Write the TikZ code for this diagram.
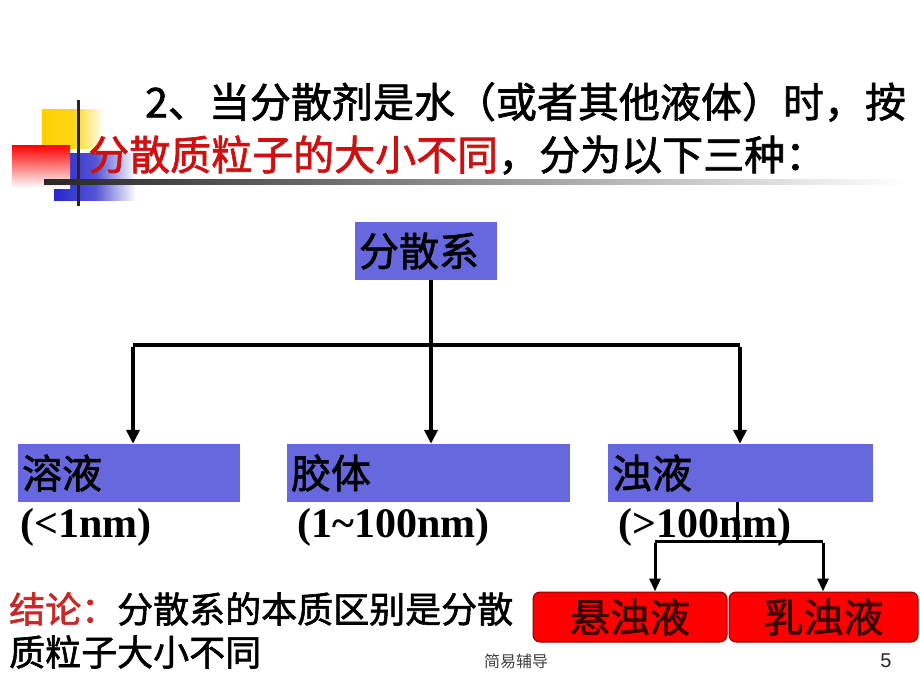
\documentclass[tikz,border=0pt]{standalone}
\usepackage{fontspec}
\setmainfont{Liberation Serif}
\newfontfamily\cjk{Noto Sans CJK SC}[FakeBold=1.6]
\newfontfamily\cjklight{Noto Sans CJK SC}
\newfontfamily\tnr{Liberation Serif}
\newfontfamily\arial{Liberation Sans}
\usetikzlibrary{arrows.meta}
\definecolor{boxblue}{RGB}{104,104,222}
\definecolor{titlered}{RGB}{208,16,16}
\definecolor{concred}{RGB}{200,40,40}
\definecolor{redbox}{RGB}{255,0,0}
\definecolor{redborder}{RGB}{140,0,0}
\definecolor{redtext}{RGB}{60,0,0}
\definecolor{decoyellow}{RGB}{255,208,0}
\definecolor{decoblue}{RGB}{40,40,200}
\tikzset{
  big/.style={font=\cjk\fontsize{40}{48}\selectfont},
  bluebox/.style={big, fill=boxblue, inner xsep=4pt, inner ysep=0pt, minimum height=58pt, align=left, anchor=center},
  redboxst/.style={big, fill=redbox, draw=redborder, line width=1pt, rounded corners=7pt, minimum height=50pt, minimum width=194pt, text=redtext, inner sep=0pt},
  sizelbl/.style={font=\tnr\bfseries\fontsize{42}{46}\selectfont, anchor=west, inner sep=0pt},
  conn/.style={line width=4pt},
  arr/.style={line width=4pt, -{Triangle[width=13pt,length=14pt]}},
  subconn/.style={line width=3pt},
  subarr/.style={line width=3pt, -{Triangle[width=11pt,length=13pt]}},
}
\begin{document}
\begin{tikzpicture}[x=1pt,y=-1pt]
\useasboundingbox (0,0) rectangle (920,690);
\fill[white] (0,0) rectangle (920,690);
% decoration
\shade[left color=decoyellow, right color=white, middle color=decoyellow!90!white] (42,110) rectangle (104,148);
\shade[left color=decoblue, right color=white, middle color=decoblue!80!white] (54,153) rectangle (136,200);
\shade[shading angle=-45, top color=red, bottom color=white] (12,145) rectangle (70,188);
\draw[line width=3pt, black!85] (78,100) -- (78,206);
\shade[left color=black!85, right color=white] (44,179) rectangle (905,184);
% title
\node[big, font=\cjk\fontsize{41}{48}\selectfont, anchor=west, inner sep=0pt] (t1) at (145,102) {2、当分散剂是水（或者其他液体）时，按};
\node[big, font=\cjk\fontsize{41}{48}\selectfont, anchor=west, inner sep=0pt] (t2) at (88,155) {\textcolor{titlered}{分散质粒子的大小不同}，分为以下三种：};
% tree
\node[bluebox, text width=134pt] (top) at (426,251) {分散系};
\node[bluebox, text width=214pt] (sol) at (129,473) {溶液};
\node[bluebox, text width=275pt] (col) at (428.5,473) {胶体};
\node[bluebox, text width=257pt] (sus) at (740.5,473) {浊液};
\node[sizelbl] (l1) at (20,527) {(<1nm)};
\node[sizelbl] (l2) at (297,527) {(1\textasciitilde100nm)};
\node[sizelbl] (l3) at (618,527) {(>100nm)};
\coordinate (hub) at (431,345);
\coordinate (L) at (133,345);
\coordinate (R) at (740,345);
\draw[conn] (hub |- top.south) -- (hub);
\draw[conn] (L) -- (R);
\draw[arr] ([yshift=-2pt]L) -- (L |- sol.north);
\draw[arr] (hub) -- (hub |- col.north);
\draw[arr] ([yshift=-2pt]R) -- (R |- sus.north);
% sub branch
\node[redboxst] (xuan) at (630,617) {悬浊液};
\node[redboxst, minimum width=189pt] (ru) at (823.5,617) {乳浊液};
\coordinate (subhub) at (737,541);
\coordinate (SL) at (655,541);
\coordinate (SR) at (823,541);
\draw[subconn] (subhub |- sus.south) -- (subhub);
\draw[subconn] (SL) -- (SR);
\draw[subarr] ([yshift=-1.5pt]SL) -- (SL |- xuan.north);
\draw[subarr] ([yshift=-1.5pt]SR) -- (SR |- ru.north);
% conclusion
\node[font=\cjk\fontsize{36}{42}\selectfont, anchor=west, inner sep=0pt] (c1) at (9,609) {\textcolor{concred}{结论：}分散系的本质区别是分散};
\node[font=\cjk\fontsize{36}{42}\selectfont, anchor=west, inner sep=0pt] (c2) at (9,652) {质粒子大小不同};
% footer
\node[font=\cjklight\fontsize{16}{18}\selectfont, text=black!75, anchor=west, inner sep=0pt] (foot) at (484,661) {简易辅导};
\node[font=\arial\fontsize{20}{22}\selectfont, text=black!85, inner sep=0pt] (pg) at (886,661) {5};
\end{tikzpicture}
\end{document}
